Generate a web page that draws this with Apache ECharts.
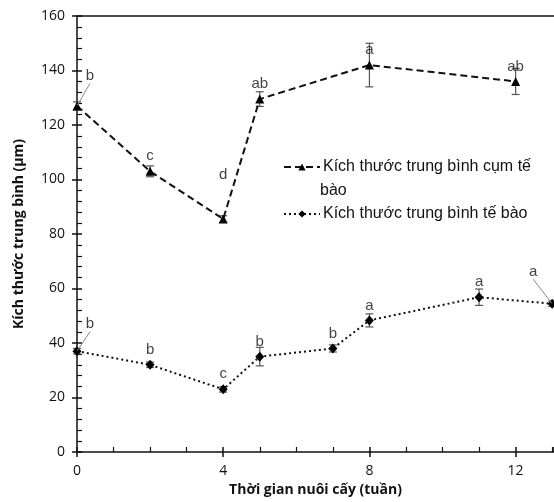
<!DOCTYPE html>
<html><head><meta charset="utf-8">
<script src="https://cdn.jsdelivr.net/npm/echarts@6/dist/echarts.min.js"></script>
<style>html,body{margin:0;padding:0;background:#fff}#c{width:554px;height:502px}</style>
</head><body><div id="c"></div>
<script>
// ---- data ----
const seriesNames = ['Kích thước trung bình cụm tế bào', 'Kích thước trung bình tế bào'];
const weeksCluster = [0, 2, 4, 5, 8, 12];
const clusterMean = [127, 103, 85.5, 129.5, 142, 136];
const clusterErr = [1.5, 2, 1.2, 2.7, 8, 4.8];
const clusterLetters = ['b', 'c', 'd', 'ab', 'a', 'ab'];
const weeksCell = [0, 2, 4, 5, 7, 8, 11, 13];
const cellMean = [37, 32, 23, 35, 38, 48.3, 56.8, 54.4];
const cellErr = [1, 1, 1, 3.4, 1.3, 2.4, 3, 1];
const cellLetters = ['b', 'b', 'c', 'b', 'b', 'a', 'a', 'a'];
const xTickLabels = [0, 4, 8, 12];
const yTickLabels = [0, 20, 40, 60, 80, 100, 120, 140, 160];
const xAxisTitle = 'Thời gian nuôi cấy (tuần)';
const yAxisTitle = 'Kích thước trung bình (µm)';

// ---- build ----
const clusterPts = weeksCluster.map((w, i) => [w, clusterMean[i], clusterErr[i], clusterLetters[i]]);
const cellPts = weeksCell.map((w, i) => [w, cellMean[i], cellErr[i], cellLetters[i]]);

// labels with leader lines (style offsets in px)
const leader = {
  cluster: { 0: [13, -30] },
  cell: { 0: [13, -27], 7: [-19, -32] }
};
const dOff = { cluster: { 2: [0, -29] }, cell: {} };

function errRender(params, api) {
  const x = api.value(0), y = api.value(1), e = api.value(2);
  const top = api.coord([x, y + e]);
  const bot = api.coord([x, y - e]);
  const w = 4;
  const st = { stroke: '#555', lineWidth: 1.2 };
  return {
    type: 'group', children: [
      { type: 'line', shape: { x1: top[0], y1: top[1], x2: bot[0], y2: bot[1] }, style: st },
      { type: 'line', shape: { x1: top[0] - w, y1: top[1], x2: top[0] + w, y2: top[1] }, style: st },
      { type: 'line', shape: { x1: bot[0] - w, y1: bot[1], x2: bot[0] + w, y2: bot[1] }, style: st }
    ]
  };
}

const labelFont = { fontFamily: 'Liberation Sans, Arial, sans-serif', fontSize: 15, color: '#111' };

function letterSeries(pts, key, withLeader) {
  const idxs = pts.map((p, i) => i).filter(i => withLeader ? (i in leader[key]) : !(i in leader[key]));
  return {
    type: 'scatter', xAxisIndex: 0, yAxisIndex: 0, symbolSize: 1, silent: true, z: 5,
    itemStyle: { color: 'rgba(0,0,0,0)' },
    data: idxs.map(i => ({ value: pts[i], idx: i })),
    label: Object.assign({ show: true, position: withLeader ? 'inside' : 'top', distance: 7, formatter: p => p.value[3] }, labelFont),
    labelLine: withLeader ? { show: true, lineStyle: { color: '#888', width: 1 } } : { show: false },
    labelLayout: function (p) {
      const i = idxs[p.dataIndex];
      const o = withLeader ? leader[key][i] : dOff[key][i];
      return o ? { dx: o[0], dy: o[1] } : {};
    }
  };
}

const chart = echarts.init(document.getElementById('c'));
const axisFont = { fontFamily: 'Open Sans, Lato, sans-serif', fontSize: 14, color: '#111' };
const legendFont = { fontFamily: 'Liberation Sans, Arial, sans-serif', fontSize: 16, color: '#111' };
chart.setOption({
  animation: false,
  backgroundColor: '#fff',
  grid: { left: 77, right: 0, top: 16, bottom: 46 },
  xAxis: [
    {
      type: 'value', min: 0, max: 13.05, interval: 4, position: 'bottom',
      name: xAxisTitle, nameLocation: 'middle', nameGap: 31,
      nameTextStyle: { fontFamily: 'Open Sans, sans-serif', fontWeight: 'bold', fontSize: 14, color: '#111' },
      axisLine: { show: true, onZero: false, lineStyle: { color: '#111', width: 1.5 } },
      axisTick: { show: true, inside: false, length: 5, lineStyle: { color: '#111', width: 1.5 } },
      axisLabel: Object.assign({ margin: 12, showMaxLabel: false, formatter: v => xTickLabels.includes(v) ? String(v) : '' }, axisFont),
      splitLine: { show: false }
    },
    {
      type: 'value', min: 0, max: 13.05, interval: 4, position: 'bottom', offset: 0,
      axisLine: { show: false },
      axisTick: { show: true, inside: true, length: 5, lineStyle: { color: '#111', width: 1.5 } },
      minorTick: { show: true, splitNumber: 4, length: 5, lineStyle: { color: '#111', width: 1.2 } },
      axisLabel: { show: false }, splitLine: { show: false }
    },
    {
      type: 'value', min: 0, max: 13.05, position: 'top',
      axisLine: { show: true, onZero: false, lineStyle: { color: '#111', width: 1.5 } },
      axisTick: { show: false }, axisLabel: { show: false }, splitLine: { show: false }
    }
  ],
  yAxis: [
    {
      type: 'value', min: 0, max: 160, interval: 20, position: 'left',
      name: yAxisTitle, nameLocation: 'middle', nameGap: 51,
      nameTextStyle: { fontFamily: 'Open Sans, sans-serif', fontWeight: 'bold', fontSize: 14, color: '#111' },
      axisLine: { show: true, onZero: false, lineStyle: { color: '#111', width: 1.5 } },
      axisTick: { show: true, inside: false, length: 5, lineStyle: { color: '#111', width: 1.5 } },
      axisLabel: Object.assign({ margin: 12, formatter: v => yTickLabels.includes(v) ? String(v) : '' }, axisFont),
      splitLine: { show: false }
    },
    {
      type: 'value', min: 0, max: 160, interval: 20, position: 'left',
      axisLine: { show: false },
      axisTick: { show: true, inside: true, length: 5, lineStyle: { color: '#111', width: 1.5 } },
      minorTick: { show: true, splitNumber: 5, length: 5, lineStyle: { color: '#111', width: 1.2 } },
      axisLabel: { show: false }, splitLine: { show: false }
    }
  ],
  legend: {
    orient: 'vertical', left: 283, top: 159, padding: 0, itemGap: 31, itemWidth: 36, itemHeight: 9,
    data: seriesNames,
    formatter: n => n === seriesNames[0] ? 'Kích thước trung bình cụm tế' : n,
    textStyle: Object.assign({ padding: [0, 0, 0, -2] }, legendFont)
  },
  graphic: [{
    type: 'text', left: 320, top: 183,
    style: { text: 'bào', font: '16px "Liberation Sans", Arial, sans-serif', fill: '#111' }
  }],
  series: [
    {
      name: seriesNames[0], type: 'line', data: clusterPts, z: 3,
      symbol: 'triangle', symbolSize: 9, showAllSymbol: true,
      itemStyle: { color: '#000' },
      lineStyle: { color: '#111', width: 2, type: [7, 4] }
    },
    {
      name: seriesNames[1], type: 'line', data: cellPts, z: 3,
      symbol: 'diamond', symbolSize: [9, 10], showAllSymbol: true,
      itemStyle: { color: '#000' },
      lineStyle: { color: '#111', width: 2, type: [2, 3] }
    },
    { type: 'custom', renderItem: errRender, data: clusterPts, z: 2, silent: true },
    { type: 'custom', renderItem: errRender, data: cellPts, z: 2, silent: true },
    letterSeries(clusterPts, 'cluster', false),
    letterSeries(clusterPts, 'cluster', true),
    letterSeries(cellPts, 'cell', false),
    letterSeries(cellPts, 'cell', true)
  ]
});
</script></body></html>
